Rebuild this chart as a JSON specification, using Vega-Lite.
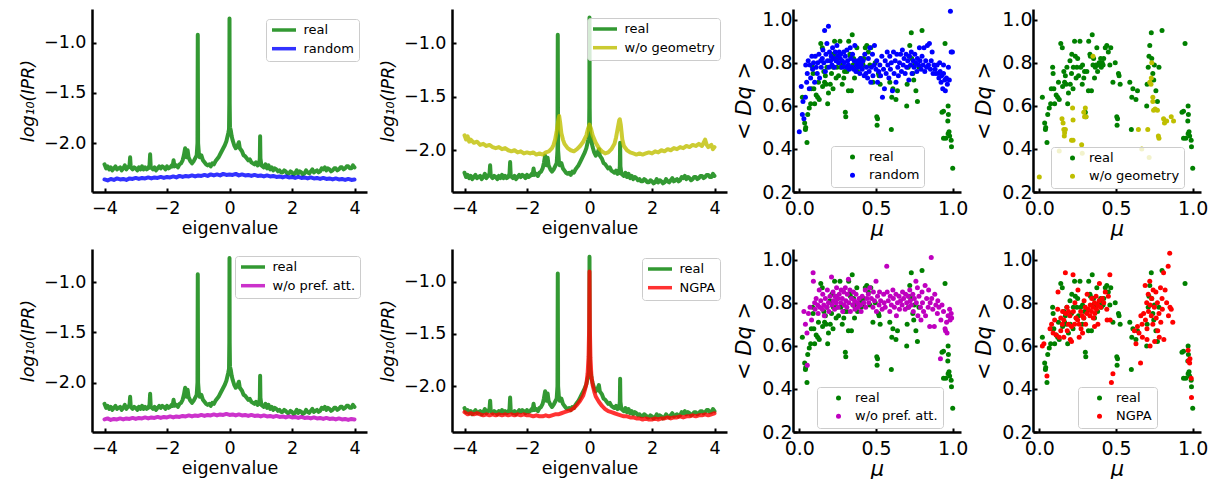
{
"$schema":"https://vega.github.io/schema/vega-lite/v6.json",
"padding":{"left":19,"top":8,"right":0,"bottom":0},
"config":{"view":{"stroke":null},"font":"DejaVu Sans","line":{"strokeJoin":"round","strokeCap":"round"},"axis":{"grid":false,"domainColor":"#000","domainWidth":2.5,"tickColor":"#000","tickWidth":2,"tickSize":-4,"labelColor":"#000","titleColor":"#000","titleFontWeight":"normal","labelFont":"DejaVu Sans","titleFont":"DejaVu Sans","labelFlush":false,"labelOverlap":false},"legend":{"labelFont":"DejaVu Sans"}},
"datasets":{
"real":[{"e":-4,"v":-2.21},{"e":-3.95,"v":-2.25},{"e":-3.9,"v":-2.23},{"e":-3.85,"v":-2.26},{"e":-3.8,"v":-2.24},{"e":-3.75,"v":-2.27},{"e":-3.7,"v":-2.25},{"e":-3.65,"v":-2.23},{"e":-3.6,"v":-2.26},{"e":-3.55,"v":-2.25},{"e":-3.5,"v":-2.24},{"e":-3.45,"v":-2.27},{"e":-3.4,"v":-2.25},{"e":-3.35,"v":-2.22},{"e":-3.3,"v":-2.26},{"e":-3.25,"v":-2.24},{"e":-3.2,"v":-2.22},{"e":-3.18,"v":-2.14},{"e":-3.16,"v":-2.24},{"e":-3.1,"v":-2.26},{"e":-3.05,"v":-2.24},{"e":-3,"v":-2.25},{"e":-2.95,"v":-2.27},{"e":-2.9,"v":-2.24},{"e":-2.85,"v":-2.26},{"e":-2.8,"v":-2.23},{"e":-2.75,"v":-2.26},{"e":-2.7,"v":-2.24},{"e":-2.65,"v":-2.26},{"e":-2.6,"v":-2.25},{"e":-2.56,"v":-2.22},{"e":-2.54,"v":-2.11},{"e":-2.52,"v":-2.24},{"e":-2.45,"v":-2.26},{"e":-2.4,"v":-2.24},{"e":-2.35,"v":-2.27},{"e":-2.3,"v":-2.25},{"e":-2.25,"v":-2.23},{"e":-2.2,"v":-2.25},{"e":-2.15,"v":-2.23},{"e":-2.1,"v":-2.24},{"e":-2.05,"v":-2.26},{"e":-2,"v":-2.23},{"e":-1.95,"v":-2.25},{"e":-1.9,"v":-2.24},{"e":-1.85,"v":-2.22},{"e":-1.82,"v":-2.23},{"e":-1.79,"v":-2.17},{"e":-1.76,"v":-2.23},{"e":-1.7,"v":-2.22},{"e":-1.65,"v":-2.24},{"e":-1.6,"v":-2.21},{"e":-1.55,"v":-2.2},{"e":-1.5,"v":-2.17},{"e":-1.46,"v":-2.12},{"e":-1.42,"v":-2.05},{"e":-1.4,"v":-2.1},{"e":-1.37,"v":-2.14},{"e":-1.34,"v":-2.07},{"e":-1.31,"v":-2.14},{"e":-1.25,"v":-2.18},{"e":-1.2,"v":-2.2},{"e":-1.15,"v":-2.18},{"e":-1.1,"v":-2.15},{"e":-1.05,"v":-2.12},{"e":-1.025,"v":-2.0},{"e":-1.015,"v":-0.92},{"e":-1.005,"v":-2.0},{"e":-0.98,"v":-2.1},{"e":-0.95,"v":-2.14},{"e":-0.9,"v":-2.12},{"e":-0.85,"v":-2.17},{"e":-0.8,"v":-2.19},{"e":-0.75,"v":-2.21},{"e":-0.7,"v":-2.22},{"e":-0.65,"v":-2.21},{"e":-0.6,"v":-2.23},{"e":-0.55,"v":-2.2},{"e":-0.5,"v":-2.21},{"e":-0.45,"v":-2.18},{"e":-0.4,"v":-2.16},{"e":-0.35,"v":-2.14},{"e":-0.3,"v":-2.11},{"e":-0.25,"v":-2.08},{"e":-0.2,"v":-2.05},{"e":-0.15,"v":-2.02},{"e":-0.1,"v":-1.98},{"e":-0.07,"v":-1.94},{"e":-0.04,"v":-1.9},{"e":-0.015,"v":-1.86},{"e":-0.006,"v":-1.6},{"e":0,"v":-0.76},{"e":0.006,"v":-1.6},{"e":0.015,"v":-1.84},{"e":0.04,"v":-1.87},{"e":0.07,"v":-1.93},{"e":0.1,"v":-1.97},{"e":0.15,"v":-2.02},{"e":0.2,"v":-2.05},{"e":0.25,"v":-2.03},{"e":0.3,"v":-1.99},{"e":0.33,"v":-2.05},{"e":0.4,"v":-2.08},{"e":0.45,"v":-2.12},{"e":0.5,"v":-2.13},{"e":0.55,"v":-2.15},{"e":0.6,"v":-2.17},{"e":0.65,"v":-2.16},{"e":0.7,"v":-2.19},{"e":0.75,"v":-2.2},{"e":0.8,"v":-2.21},{"e":0.85,"v":-2.19},{"e":0.9,"v":-2.22},{"e":0.95,"v":-2.21},{"e":0.97,"v":-2.15},{"e":0.98,"v":-1.93},{"e":0.99,"v":-2.15},{"e":1.02,"v":-2.22},{"e":1.1,"v":-2.24},{"e":1.15,"v":-2.21},{"e":1.2,"v":-2.25},{"e":1.25,"v":-2.22},{"e":1.3,"v":-2.26},{"e":1.35,"v":-2.24},{"e":1.4,"v":-2.27},{"e":1.45,"v":-2.25},{"e":1.5,"v":-2.26},{"e":1.55,"v":-2.28},{"e":1.6,"v":-2.27},{"e":1.65,"v":-2.29},{"e":1.7,"v":-2.29},{"e":1.75,"v":-2.27},{"e":1.8,"v":-2.28},{"e":1.85,"v":-2.3},{"e":1.9,"v":-2.3},{"e":1.95,"v":-2.28},{"e":2,"v":-2.29},{"e":2.05,"v":-2.31},{"e":2.1,"v":-2.3},{"e":2.15,"v":-2.27},{"e":2.2,"v":-2.3},{"e":2.25,"v":-2.28},{"e":2.3,"v":-2.29},{"e":2.35,"v":-2.31},{"e":2.4,"v":-2.3},{"e":2.45,"v":-2.27},{"e":2.5,"v":-2.29},{"e":2.55,"v":-2.3},{"e":2.6,"v":-2.28},{"e":2.65,"v":-2.26},{"e":2.7,"v":-2.29},{"e":2.75,"v":-2.28},{"e":2.8,"v":-2.27},{"e":2.85,"v":-2.29},{"e":2.9,"v":-2.28},{"e":2.95,"v":-2.25},{"e":3,"v":-2.26},{"e":3.05,"v":-2.24},{"e":3.1,"v":-2.27},{"e":3.15,"v":-2.25},{"e":3.2,"v":-2.26},{"e":3.25,"v":-2.28},{"e":3.3,"v":-2.27},{"e":3.35,"v":-2.25},{"e":3.4,"v":-2.25},{"e":3.45,"v":-2.27},{"e":3.5,"v":-2.26},{"e":3.55,"v":-2.24},{"e":3.6,"v":-2.24},{"e":3.65,"v":-2.26},{"e":3.7,"v":-2.25},{"e":3.75,"v":-2.23},{"e":3.8,"v":-2.23},{"e":3.85,"v":-2.25},{"e":3.9,"v":-2.25},{"e":3.95,"v":-2.22},{"e":4,"v":-2.24}],
"random":[{"e":-4,"v":-2.36},{"e":-3.9,"v":-2.37},{"e":-3.8,"v":-2.355},{"e":-3.7,"v":-2.365},{"e":-3.6,"v":-2.35},{"e":-3.5,"v":-2.36},{"e":-3.4,"v":-2.355},{"e":-3.3,"v":-2.365},{"e":-3.2,"v":-2.35},{"e":-3.1,"v":-2.355},{"e":-3,"v":-2.345},{"e":-2.9,"v":-2.355},{"e":-2.8,"v":-2.345},{"e":-2.7,"v":-2.35},{"e":-2.6,"v":-2.34},{"e":-2.5,"v":-2.35},{"e":-2.4,"v":-2.34},{"e":-2.3,"v":-2.345},{"e":-2.2,"v":-2.335},{"e":-2.1,"v":-2.345},{"e":-2,"v":-2.335},{"e":-1.9,"v":-2.34},{"e":-1.8,"v":-2.33},{"e":-1.7,"v":-2.34},{"e":-1.6,"v":-2.325},{"e":-1.5,"v":-2.335},{"e":-1.4,"v":-2.325},{"e":-1.3,"v":-2.33},{"e":-1.2,"v":-2.32},{"e":-1.1,"v":-2.33},{"e":-1,"v":-2.32},{"e":-0.9,"v":-2.325},{"e":-0.8,"v":-2.315},{"e":-0.7,"v":-2.325},{"e":-0.6,"v":-2.31},{"e":-0.5,"v":-2.32},{"e":-0.4,"v":-2.31},{"e":-0.3,"v":-2.32},{"e":-0.2,"v":-2.305},{"e":-0.1,"v":-2.315},{"e":0,"v":-2.31},{"e":0.1,"v":-2.315},{"e":0.2,"v":-2.305},{"e":0.3,"v":-2.32},{"e":0.4,"v":-2.31},{"e":0.5,"v":-2.32},{"e":0.6,"v":-2.315},{"e":0.7,"v":-2.325},{"e":0.8,"v":-2.315},{"e":0.9,"v":-2.325},{"e":1,"v":-2.32},{"e":1.1,"v":-2.33},{"e":1.2,"v":-2.32},{"e":1.3,"v":-2.33},{"e":1.4,"v":-2.325},{"e":1.5,"v":-2.335},{"e":1.6,"v":-2.33},{"e":1.7,"v":-2.34},{"e":1.8,"v":-2.33},{"e":1.9,"v":-2.34},{"e":2,"v":-2.335},{"e":2.1,"v":-2.345},{"e":2.2,"v":-2.335},{"e":2.3,"v":-2.345},{"e":2.4,"v":-2.34},{"e":2.5,"v":-2.35},{"e":2.6,"v":-2.34},{"e":2.7,"v":-2.35},{"e":2.8,"v":-2.345},{"e":2.9,"v":-2.355},{"e":3,"v":-2.345},{"e":3.1,"v":-2.355},{"e":3.2,"v":-2.35},{"e":3.3,"v":-2.36},{"e":3.4,"v":-2.35},{"e":3.5,"v":-2.36},{"e":3.6,"v":-2.355},{"e":3.7,"v":-2.365},{"e":3.8,"v":-2.355},{"e":3.9,"v":-2.365},{"e":4,"v":-2.36}],
"geo":[{"e":-4,"v":-1.86},{"e":-3.95,"v":-1.9},{"e":-3.9,"v":-1.87},{"e":-3.85,"v":-1.92},{"e":-3.8,"v":-1.9},{"e":-3.7,"v":-1.93},{"e":-3.6,"v":-1.92},{"e":-3.5,"v":-1.95},{"e":-3.4,"v":-1.94},{"e":-3.3,"v":-1.96},{"e":-3.2,"v":-1.95},{"e":-3.1,"v":-1.97},{"e":-3,"v":-1.98},{"e":-2.9,"v":-1.97},{"e":-2.8,"v":-1.99},{"e":-2.7,"v":-1.98},{"e":-2.6,"v":-2.0},{"e":-2.5,"v":-2.01},{"e":-2.4,"v":-2.0},{"e":-2.3,"v":-2.02},{"e":-2.2,"v":-2.01},{"e":-2.1,"v":-2.03},{"e":-2,"v":-2.02},{"e":-1.9,"v":-2.03},{"e":-1.8,"v":-2.02},{"e":-1.7,"v":-2.04},{"e":-1.6,"v":-2.03},{"e":-1.5,"v":-2.04},{"e":-1.4,"v":-2.02},{"e":-1.3,"v":-2.01},{"e":-1.2,"v":-1.98},{"e":-1.15,"v":-1.95},{"e":-1.1,"v":-1.9},{"e":-1.05,"v":-1.82},{"e":-1,"v":-1.72},{"e":-0.97,"v":-1.68},{"e":-0.94,"v":-1.74},{"e":-0.9,"v":-1.84},{"e":-0.85,"v":-1.9},{"e":-0.8,"v":-1.94},{"e":-0.7,"v":-1.98},{"e":-0.6,"v":-2.0},{"e":-0.5,"v":-2.01},{"e":-0.4,"v":-1.99},{"e":-0.3,"v":-1.96},{"e":-0.2,"v":-1.92},{"e":-0.1,"v":-1.86},{"e":-0.05,"v":-1.8},{"e":0,"v":-1.76},{"e":0.05,"v":-1.8},{"e":0.1,"v":-1.86},{"e":0.2,"v":-1.93},{"e":0.3,"v":-1.98},{"e":0.4,"v":-2.01},{"e":0.5,"v":-2.03},{"e":0.6,"v":-2.02},{"e":0.7,"v":-1.99},{"e":0.8,"v":-1.94},{"e":0.85,"v":-1.88},{"e":0.9,"v":-1.8},{"e":0.95,"v":-1.72},{"e":0.97,"v":-1.71},{"e":1,"v":-1.76},{"e":1.05,"v":-1.9},{"e":1.1,"v":-1.96},{"e":1.2,"v":-2.0},{"e":1.3,"v":-2.02},{"e":1.4,"v":-2.03},{"e":1.5,"v":-2.04},{"e":1.6,"v":-2.03},{"e":1.7,"v":-2.04},{"e":1.8,"v":-2.03},{"e":1.9,"v":-2.02},{"e":2,"v":-2.03},{"e":2.1,"v":-2.01},{"e":2.2,"v":-2.02},{"e":2.3,"v":-2.0},{"e":2.4,"v":-2.01},{"e":2.5,"v":-1.99},{"e":2.6,"v":-2.0},{"e":2.7,"v":-1.98},{"e":2.8,"v":-1.99},{"e":2.9,"v":-1.97},{"e":3,"v":-1.98},{"e":3.1,"v":-1.96},{"e":3.2,"v":-1.97},{"e":3.3,"v":-1.95},{"e":3.4,"v":-1.96},{"e":3.5,"v":-1.94},{"e":3.6,"v":-1.96},{"e":3.7,"v":-1.9},{"e":3.75,"v":-1.95},{"e":3.8,"v":-1.97},{"e":3.9,"v":-1.95},{"e":3.95,"v":-1.99},{"e":4,"v":-1.97}],
"pref":[{"e":-4,"v":-2.365},{"e":-3.9,"v":-2.355},{"e":-3.8,"v":-2.37},{"e":-3.7,"v":-2.36},{"e":-3.6,"v":-2.365},{"e":-3.5,"v":-2.355},{"e":-3.4,"v":-2.365},{"e":-3.3,"v":-2.355},{"e":-3.2,"v":-2.36},{"e":-3.1,"v":-2.35},{"e":-3,"v":-2.36},{"e":-2.9,"v":-2.35},{"e":-2.8,"v":-2.355},{"e":-2.7,"v":-2.345},{"e":-2.6,"v":-2.355},{"e":-2.5,"v":-2.345},{"e":-2.4,"v":-2.35},{"e":-2.3,"v":-2.34},{"e":-2.2,"v":-2.35},{"e":-2.1,"v":-2.34},{"e":-2,"v":-2.345},{"e":-1.9,"v":-2.335},{"e":-1.8,"v":-2.345},{"e":-1.7,"v":-2.335},{"e":-1.6,"v":-2.34},{"e":-1.5,"v":-2.33},{"e":-1.4,"v":-2.335},{"e":-1.3,"v":-2.325},{"e":-1.2,"v":-2.335},{"e":-1.1,"v":-2.325},{"e":-1,"v":-2.33},{"e":-0.9,"v":-2.32},{"e":-0.8,"v":-2.33},{"e":-0.7,"v":-2.32},{"e":-0.6,"v":-2.325},{"e":-0.5,"v":-2.315},{"e":-0.4,"v":-2.325},{"e":-0.3,"v":-2.315},{"e":-0.2,"v":-2.32},{"e":-0.1,"v":-2.31},{"e":0,"v":-2.32},{"e":0.1,"v":-2.315},{"e":0.2,"v":-2.325},{"e":0.3,"v":-2.315},{"e":0.4,"v":-2.325},{"e":0.5,"v":-2.32},{"e":0.6,"v":-2.33},{"e":0.7,"v":-2.32},{"e":0.8,"v":-2.33},{"e":0.9,"v":-2.325},{"e":1,"v":-2.335},{"e":1.1,"v":-2.325},{"e":1.2,"v":-2.335},{"e":1.3,"v":-2.33},{"e":1.4,"v":-2.34},{"e":1.5,"v":-2.33},{"e":1.6,"v":-2.34},{"e":1.7,"v":-2.335},{"e":1.8,"v":-2.345},{"e":1.9,"v":-2.335},{"e":2,"v":-2.345},{"e":2.1,"v":-2.34},{"e":2.2,"v":-2.35},{"e":2.3,"v":-2.34},{"e":2.4,"v":-2.35},{"e":2.5,"v":-2.345},{"e":2.6,"v":-2.355},{"e":2.7,"v":-2.345},{"e":2.8,"v":-2.355},{"e":2.9,"v":-2.35},{"e":3,"v":-2.36},{"e":3.1,"v":-2.35},{"e":3.2,"v":-2.36},{"e":3.3,"v":-2.355},{"e":3.4,"v":-2.365},{"e":3.5,"v":-2.355},{"e":3.6,"v":-2.365},{"e":3.7,"v":-2.36},{"e":3.8,"v":-2.37},{"e":3.9,"v":-2.36},{"e":4,"v":-2.365}],
"ngpa":[{"e":-4,"v":-2.25},{"e":-3.9,"v":-2.27},{"e":-3.8,"v":-2.26},{"e":-3.7,"v":-2.27},{"e":-3.6,"v":-2.26},{"e":-3.5,"v":-2.27},{"e":-3.4,"v":-2.28},{"e":-3.3,"v":-2.27},{"e":-3.2,"v":-2.28},{"e":-3.1,"v":-2.27},{"e":-3,"v":-2.28},{"e":-2.9,"v":-2.27},{"e":-2.8,"v":-2.28},{"e":-2.7,"v":-2.27},{"e":-2.6,"v":-2.28},{"e":-2.5,"v":-2.27},{"e":-2.4,"v":-2.28},{"e":-2.3,"v":-2.27},{"e":-2.2,"v":-2.28},{"e":-2.1,"v":-2.27},{"e":-2,"v":-2.28},{"e":-1.9,"v":-2.28},{"e":-1.8,"v":-2.29},{"e":-1.7,"v":-2.28},{"e":-1.6,"v":-2.29},{"e":-1.5,"v":-2.29},{"e":-1.4,"v":-2.28},{"e":-1.3,"v":-2.29},{"e":-1.2,"v":-2.28},{"e":-1.1,"v":-2.27},{"e":-1,"v":-2.27},{"e":-0.9,"v":-2.26},{"e":-0.8,"v":-2.25},{"e":-0.7,"v":-2.24},{"e":-0.6,"v":-2.23},{"e":-0.5,"v":-2.21},{"e":-0.4,"v":-2.18},{"e":-0.3,"v":-2.14},{"e":-0.2,"v":-2.09},{"e":-0.15,"v":-2.04},{"e":-0.1,"v":-1.98},{"e":-0.06,"v":-1.88},{"e":-0.03,"v":-1.72},{"e":-0.012,"v":-1.45},{"e":0,"v":-0.9},{"e":0.012,"v":-1.45},{"e":0.03,"v":-1.73},{"e":0.06,"v":-1.9},{"e":0.1,"v":-1.99},{"e":0.15,"v":-2.05},{"e":0.2,"v":-2.1},{"e":0.3,"v":-2.15},{"e":0.4,"v":-2.19},{"e":0.5,"v":-2.22},{"e":0.6,"v":-2.24},{"e":0.7,"v":-2.25},{"e":0.8,"v":-2.26},{"e":0.9,"v":-2.27},{"e":1,"v":-2.28},{"e":1.1,"v":-2.29},{"e":1.2,"v":-2.29},{"e":1.3,"v":-2.3},{"e":1.4,"v":-2.3},{"e":1.5,"v":-2.31},{"e":1.6,"v":-2.31},{"e":1.7,"v":-2.32},{"e":1.8,"v":-2.31},{"e":1.9,"v":-2.32},{"e":2,"v":-2.32},{"e":2.1,"v":-2.31},{"e":2.2,"v":-2.32},{"e":2.3,"v":-2.31},{"e":2.4,"v":-2.31},{"e":2.5,"v":-2.3},{"e":2.6,"v":-2.31},{"e":2.7,"v":-2.3},{"e":2.8,"v":-2.3},{"e":2.9,"v":-2.29},{"e":3,"v":-2.3},{"e":3.1,"v":-2.29},{"e":3.2,"v":-2.29},{"e":3.3,"v":-2.28},{"e":3.4,"v":-2.29},{"e":3.5,"v":-2.28},{"e":3.6,"v":-2.28},{"e":3.7,"v":-2.27},{"e":3.8,"v":-2.28},{"e":3.9,"v":-2.27},{"e":4,"v":-2.26}],
"sreal":[{"m":0.02,"d":0.64},{"m":0.035,"d":0.52},{"m":0.04,"d":0.49},{"m":0.042,"d":0.5},{"m":0.05,"d":0.43},{"m":0.055,"d":0.56},{"m":0.065,"d":0.59},{"m":0.074,"d":0.61},{"m":0.087,"d":0.78},{"m":0.078,"d":0.68},{"m":0.09,"d":0.75},{"m":0.095,"d":0.68},{"m":0.1,"d":0.61},{"m":0.11,"d":0.65},{"m":0.12,"d":0.64},{"m":0.125,"d":0.71},{"m":0.13,"d":0.63},{"m":0.14,"d":0.89},{"m":0.15,"d":0.87},{"m":0.152,"d":0.69},{"m":0.16,"d":0.76},{"m":0.165,"d":0.71},{"m":0.17,"d":0.74},{"m":0.175,"d":0.7},{"m":0.18,"d":0.78},{"m":0.185,"d":0.61},{"m":0.19,"d":0.66},{"m":0.2,"d":0.81},{"m":0.202,"d":0.7},{"m":0.21,"d":0.75},{"m":0.212,"d":0.84},{"m":0.22,"d":0.68},{"m":0.222,"d":0.78},{"m":0.23,"d":0.9},{"m":0.235,"d":0.83},{"m":0.24,"d":0.73},{"m":0.245,"d":0.78},{"m":0.25,"d":0.82},{"m":0.256,"d":0.74},{"m":0.265,"d":0.9},{"m":0.27,"d":0.78},{"m":0.28,"d":0.7},{"m":0.282,"d":0.79},{"m":0.29,"d":0.73},{"m":0.295,"d":0.76},{"m":0.3,"d":0.57},{"m":0.303,"d":0.55},{"m":0.31,"d":0.76},{"m":0.32,"d":0.67},{"m":0.322,"d":0.9},{"m":0.33,"d":0.84},{"m":0.333,"d":0.83},{"m":0.34,"d":0.67},{"m":0.345,"d":0.93},{"m":0.35,"d":0.79},{"m":0.354,"d":0.82},{"m":0.36,"d":0.73},{"m":0.365,"d":0.78},{"m":0.37,"d":0.79},{"m":0.375,"d":0.87},{"m":0.38,"d":0.76},{"m":0.386,"d":0.79},{"m":0.39,"d":0.8},{"m":0.4,"d":0.82},{"m":0.404,"d":0.78},{"m":0.41,"d":0.8},{"m":0.416,"d":0.79},{"m":0.42,"d":0.82},{"m":0.43,"d":0.87},{"m":0.44,"d":0.88},{"m":0.45,"d":0.85},{"m":0.46,"d":0.79},{"m":0.466,"d":0.87},{"m":0.48,"d":0.71},{"m":0.495,"d":0.8},{"m":0.505,"d":0.55},{"m":0.51,"d":0.54},{"m":0.507,"d":0.51},{"m":0.516,"d":0.75},{"m":0.52,"d":0.74},{"m":0.527,"d":0.7},{"m":0.59,"d":0.71},{"m":0.6,"d":0.49},{"m":0.603,"d":0.64},{"m":0.61,"d":0.68},{"m":0.63,"d":0.63},{"m":0.64,"d":0.67},{"m":0.7,"d":0.6},{"m":0.703,"d":0.7},{"m":0.71,"d":0.78},{"m":0.715,"d":0.83},{"m":0.72,"d":0.88},{"m":0.73,"d":0.94},{"m":0.733,"d":0.82},{"m":0.74,"d":0.75},{"m":0.746,"d":0.72},{"m":0.75,"d":0.79},{"m":0.76,"d":0.67},{"m":0.77,"d":0.62},{"m":0.78,"d":0.78},{"m":0.8,"d":0.95},{"m":0.95,"d":0.89},{"m":0.93,"d":0.57},{"m":0.94,"d":0.575},{"m":0.94,"d":0.45},{"m":0.955,"d":0.45},{"m":0.97,"d":0.6},{"m":0.972,"d":0.56},{"m":0.968,"d":0.53},{"m":0.976,"d":0.48},{"m":0.98,"d":0.46},{"m":0.99,"d":0.44},{"m":0.992,"d":0.41},{"m":1.0,"d":0.31},{"m":0.97,"d":0.47}],
"srandom":[{"m":0.0,"d":0.48},{"m":0.013,"d":0.69},{"m":0.02,"d":0.56},{"m":0.024,"d":0.62},{"m":0.03,"d":0.54},{"m":0.04,"d":0.64},{"m":0.042,"d":0.79},{"m":0.048,"d":0.71},{"m":0.052,"d":0.75},{"m":0.058,"d":0.81},{"m":0.065,"d":0.68},{"m":0.07,"d":0.79},{"m":0.074,"d":0.73},{"m":0.082,"d":0.83},{"m":0.087,"d":0.77},{"m":0.093,"d":0.8},{"m":0.1,"d":0.71},{"m":0.104,"d":0.83},{"m":0.11,"d":0.78},{"m":0.117,"d":0.75},{"m":0.12,"d":0.8},{"m":0.128,"d":0.84},{"m":0.132,"d":0.73},{"m":0.14,"d":0.81},{"m":0.143,"d":0.78},{"m":0.15,"d":0.82},{"m":0.154,"d":0.86},{"m":0.16,"d":0.8},{"m":0.165,"d":0.95},{"m":0.17,"d":0.76},{"m":0.174,"d":0.84},{"m":0.18,"d":0.89},{"m":0.184,"d":0.81},{"m":0.19,"d":0.97},{"m":0.193,"d":0.78},{"m":0.197,"d":0.85},{"m":0.204,"d":0.81},{"m":0.208,"d":0.83},{"m":0.213,"d":0.79},{"m":0.217,"d":0.87},{"m":0.223,"d":0.82},{"m":0.228,"d":0.78},{"m":0.234,"d":0.85},{"m":0.239,"d":0.81},{"m":0.245,"d":0.88},{"m":0.25,"d":0.83},{"m":0.256,"d":0.8},{"m":0.26,"d":0.85},{"m":0.267,"d":0.82},{"m":0.27,"d":0.84},{"m":0.278,"d":0.78},{"m":0.28,"d":0.81},{"m":0.29,"d":0.85},{"m":0.293,"d":0.8},{"m":0.3,"d":0.83},{"m":0.306,"d":0.78},{"m":0.31,"d":0.86},{"m":0.315,"d":0.81},{"m":0.32,"d":0.79},{"m":0.325,"d":0.77},{"m":0.332,"d":0.87},{"m":0.336,"d":0.82},{"m":0.343,"d":0.78},{"m":0.347,"d":0.84},{"m":0.354,"d":0.77},{"m":0.358,"d":0.81},{"m":0.362,"d":0.88},{"m":0.369,"d":0.76},{"m":0.373,"d":0.79},{"m":0.38,"d":0.81},{"m":0.384,"d":0.78},{"m":0.39,"d":0.8},{"m":0.395,"d":0.75},{"m":0.4,"d":0.82},{"m":0.405,"d":0.79},{"m":0.41,"d":0.77},{"m":0.416,"d":0.81},{"m":0.423,"d":0.74},{"m":0.427,"d":0.84},{"m":0.434,"d":0.75},{"m":0.438,"d":0.78},{"m":0.445,"d":0.73},{"m":0.45,"d":0.82},{"m":0.455,"d":0.76},{"m":0.46,"d":0.87},{"m":0.466,"d":0.71},{"m":0.47,"d":0.78},{"m":0.477,"d":0.84},{"m":0.48,"d":0.74},{"m":0.488,"d":0.79},{"m":0.49,"d":0.88},{"m":0.5,"d":0.77},{"m":0.505,"d":0.81},{"m":0.51,"d":0.71},{"m":0.518,"d":0.76},{"m":0.525,"d":0.79},{"m":0.53,"d":0.74},{"m":0.538,"d":0.83},{"m":0.542,"d":0.64},{"m":0.549,"d":0.77},{"m":0.555,"d":0.68},{"m":0.56,"d":0.81},{"m":0.566,"d":0.75},{"m":0.573,"d":0.85},{"m":0.577,"d":0.79},{"m":0.584,"d":0.73},{"m":0.59,"d":0.83},{"m":0.594,"d":0.77},{"m":0.6,"d":0.8},{"m":0.607,"d":0.67},{"m":0.614,"d":0.85},{"m":0.618,"d":0.75},{"m":0.625,"d":0.81},{"m":0.63,"d":0.71},{"m":0.636,"d":0.84},{"m":0.642,"d":0.78},{"m":0.646,"d":0.74},{"m":0.653,"d":0.8},{"m":0.66,"d":0.84},{"m":0.666,"d":0.76},{"m":0.672,"d":0.86},{"m":0.677,"d":0.79},{"m":0.683,"d":0.82},{"m":0.69,"d":0.75},{"m":0.696,"d":0.84},{"m":0.7,"d":0.78},{"m":0.707,"d":0.81},{"m":0.714,"d":0.72},{"m":0.718,"d":0.83},{"m":0.725,"d":0.79},{"m":0.73,"d":0.85},{"m":0.735,"d":0.75},{"m":0.742,"d":0.81},{"m":0.748,"d":0.78},{"m":0.753,"d":0.84},{"m":0.76,"d":0.8},{"m":0.766,"d":0.76},{"m":0.77,"d":0.82},{"m":0.777,"d":0.79},{"m":0.783,"d":0.87},{"m":0.787,"d":0.81},{"m":0.794,"d":0.77},{"m":0.8,"d":0.83},{"m":0.807,"d":0.79},{"m":0.813,"d":0.87},{"m":0.818,"d":0.76},{"m":0.824,"d":0.81},{"m":0.83,"d":0.78},{"m":0.835,"d":0.88},{"m":0.842,"d":0.79},{"m":0.848,"d":0.89},{"m":0.855,"d":0.77},{"m":0.86,"d":0.81},{"m":0.866,"d":0.85},{"m":0.872,"d":0.75},{"m":0.878,"d":0.79},{"m":0.885,"d":0.77},{"m":0.89,"d":0.75},{"m":0.898,"d":0.79},{"m":0.905,"d":0.75},{"m":0.91,"d":0.73},{"m":0.918,"d":0.76},{"m":0.924,"d":0.71},{"m":0.928,"d":0.74},{"m":0.935,"d":0.68},{"m":0.94,"d":0.75},{"m":0.948,"d":0.72},{"m":0.952,"d":0.67},{"m":0.959,"d":0.73},{"m":0.965,"d":0.7},{"m":0.972,"d":0.78},{"m":0.978,"d":0.72},{"m":0.985,"d":1.04},{"m":0.99,"d":0.85},{"m":0.998,"d":0.85},{"m":0.94,"d":0.79},{"m":0.915,"d":0.8}],
"sgeo":[{"m":0.0,"d":0.27},{"m":0.13,"d":0.39},{"m":0.148,"d":0.54},{"m":0.155,"d":0.52},{"m":0.16,"d":0.49},{"m":0.165,"d":0.475},{"m":0.17,"d":0.49},{"m":0.163,"d":0.46},{"m":0.21,"d":0.44},{"m":0.22,"d":0.44},{"m":0.217,"d":0.59},{"m":0.22,"d":0.535},{"m":0.276,"d":0.42},{"m":0.28,"d":0.38},{"m":0.29,"d":0.57},{"m":0.295,"d":0.55},{"m":0.3,"d":0.59},{"m":0.305,"d":0.55},{"m":0.35,"d":0.83},{"m":0.646,"d":0.49},{"m":0.707,"d":0.49},{"m":0.668,"d":0.4},{"m":0.716,"d":0.36},{"m":0.72,"d":0.71},{"m":0.73,"d":0.73},{"m":0.733,"d":0.8},{"m":0.74,"d":0.64},{"m":0.745,"d":0.58},{"m":0.755,"d":0.585},{"m":0.77,"d":0.58},{"m":0.776,"d":0.46},{"m":0.78,"d":0.45},{"m":0.81,"d":0.54},{"m":0.816,"d":0.52},{"m":0.83,"d":0.53},{"m":0.86,"d":0.55},{"m":0.875,"d":0.53},{"m":0.74,"d":0.62},{"m":0.728,"d":0.7}],
"spref":[{"m":0.03,"d":0.76},{"m":0.04,"d":0.7},{"m":0.05,"d":0.66},{"m":0.052,"d":0.51},{"m":0.06,"d":0.75},{"m":0.07,"d":0.78},{"m":0.08,"d":0.72},{"m":0.09,"d":0.94},{"m":0.092,"d":0.9},{"m":0.1,"d":0.8},{"m":0.103,"d":0.77},{"m":0.11,"d":0.82},{"m":0.12,"d":0.79},{"m":0.123,"d":0.75},{"m":0.13,"d":0.86},{"m":0.133,"d":0.78},{"m":0.14,"d":0.81},{"m":0.15,"d":0.77},{"m":0.153,"d":0.84},{"m":0.16,"d":0.79},{"m":0.163,"d":0.74},{"m":0.17,"d":0.82},{"m":0.18,"d":0.78},{"m":0.183,"d":0.86},{"m":0.19,"d":0.8},{"m":0.193,"d":0.76},{"m":0.2,"d":0.83},{"m":0.21,"d":0.92},{"m":0.213,"d":0.79},{"m":0.22,"d":0.85},{"m":0.223,"d":0.81},{"m":0.23,"d":0.77},{"m":0.233,"d":0.83},{"m":0.24,"d":0.8},{"m":0.243,"d":0.87},{"m":0.25,"d":0.82},{"m":0.253,"d":0.78},{"m":0.26,"d":0.84},{"m":0.27,"d":0.8},{"m":0.273,"d":0.86},{"m":0.28,"d":0.82},{"m":0.283,"d":0.76},{"m":0.29,"d":0.85},{"m":0.293,"d":0.79},{"m":0.3,"d":0.87},{"m":0.303,"d":0.81},{"m":0.31,"d":0.78},{"m":0.313,"d":0.84},{"m":0.32,"d":0.91},{"m":0.323,"d":0.8},{"m":0.33,"d":0.86},{"m":0.333,"d":0.76},{"m":0.34,"d":0.82},{"m":0.35,"d":0.79},{"m":0.353,"d":0.85},{"m":0.36,"d":0.81},{"m":0.363,"d":0.77},{"m":0.37,"d":0.84},{"m":0.38,"d":0.8},{"m":0.383,"d":0.78},{"m":0.39,"d":0.82},{"m":0.4,"d":0.79},{"m":0.403,"d":0.76},{"m":0.41,"d":0.83},{"m":0.42,"d":0.8},{"m":0.43,"d":0.86},{"m":0.433,"d":0.78},{"m":0.44,"d":0.82},{"m":0.45,"d":0.84},{"m":0.453,"d":0.8},{"m":0.46,"d":0.87},{"m":0.47,"d":0.82},{"m":0.48,"d":0.78},{"m":0.483,"d":0.85},{"m":0.49,"d":0.81},{"m":0.5,"d":0.9},{"m":0.503,"d":0.76},{"m":0.51,"d":0.83},{"m":0.52,"d":0.79},{"m":0.523,"d":0.85},{"m":0.53,"d":0.81},{"m":0.54,"d":0.77},{"m":0.55,"d":0.84},{"m":0.553,"d":0.8},{"m":0.56,"d":0.78},{"m":0.57,"d":0.97},{"m":0.573,"d":0.85},{"m":0.58,"d":0.81},{"m":0.59,"d":0.76},{"m":0.593,"d":0.83},{"m":0.6,"d":0.79},{"m":0.61,"d":0.86},{"m":0.613,"d":0.82},{"m":0.62,"d":0.78},{"m":0.63,"d":0.84},{"m":0.633,"d":0.74},{"m":0.64,"d":0.8},{"m":0.65,"d":0.83},{"m":0.653,"d":0.77},{"m":0.66,"d":0.81},{"m":0.67,"d":0.79},{"m":0.673,"d":0.85},{"m":0.68,"d":0.82},{"m":0.69,"d":0.77},{"m":0.693,"d":0.84},{"m":0.7,"d":0.8},{"m":0.71,"d":0.83},{"m":0.713,"d":0.78},{"m":0.72,"d":0.86},{"m":0.723,"d":0.81},{"m":0.73,"d":0.79},{"m":0.74,"d":0.84},{"m":0.743,"d":0.76},{"m":0.75,"d":0.82},{"m":0.76,"d":0.9},{"m":0.763,"d":0.8},{"m":0.77,"d":0.87},{"m":0.773,"d":0.74},{"m":0.78,"d":0.83},{"m":0.79,"d":0.78},{"m":0.793,"d":0.72},{"m":0.8,"d":0.85},{"m":0.803,"d":0.8},{"m":0.81,"d":0.76},{"m":0.82,"d":0.88},{"m":0.823,"d":0.74},{"m":0.83,"d":0.82},{"m":0.84,"d":0.78},{"m":0.843,"d":0.86},{"m":0.85,"d":0.69},{"m":0.853,"d":0.8},{"m":0.86,"d":1.01},{"m":0.863,"d":0.82},{"m":0.87,"d":0.77},{"m":0.88,"d":0.69},{"m":0.883,"d":0.84},{"m":0.89,"d":0.79},{"m":0.9,"d":0.75},{"m":0.903,"d":0.81},{"m":0.91,"d":0.78},{"m":0.92,"d":0.54},{"m":0.923,"d":0.72},{"m":0.93,"d":0.79},{"m":0.94,"d":0.76},{"m":0.95,"d":0.68},{"m":0.953,"d":0.67},{"m":0.96,"d":0.71},{"m":0.963,"d":0.66},{"m":0.97,"d":0.74},{"m":0.98,"d":0.77},{"m":0.983,"d":0.72},{"m":0.99,"d":0.75},{"m":0.993,"d":0.73}],
"sngpa":[{"m":0.02,"d":0.6},{"m":0.03,"d":0.61},{"m":0.05,"d":0.46},{"m":0.07,"d":0.68},{"m":0.08,"d":0.7},{"m":0.09,"d":0.66},{"m":0.1,"d":0.72},{"m":0.11,"d":0.65},{"m":0.12,"d":0.77},{"m":0.122,"d":0.85},{"m":0.13,"d":0.64},{"m":0.14,"d":0.73},{"m":0.15,"d":0.7},{"m":0.152,"d":0.76},{"m":0.16,"d":0.72},{"m":0.17,"d":0.94},{"m":0.172,"d":0.75},{"m":0.18,"d":0.78},{"m":0.182,"d":0.67},{"m":0.19,"d":0.7},{"m":0.2,"d":0.74},{"m":0.202,"d":0.63},{"m":0.21,"d":0.62},{"m":0.22,"d":0.93},{"m":0.222,"d":0.76},{"m":0.23,"d":0.7},{"m":0.232,"d":0.8},{"m":0.24,"d":0.73},{"m":0.25,"d":0.72},{"m":0.252,"d":0.86},{"m":0.26,"d":0.7},{"m":0.27,"d":0.76},{"m":0.272,"d":0.68},{"m":0.28,"d":0.74},{"m":0.282,"d":0.66},{"m":0.29,"d":0.73},{"m":0.292,"d":0.81},{"m":0.3,"d":0.78},{"m":0.302,"d":0.7},{"m":0.31,"d":0.75},{"m":0.312,"d":0.84},{"m":0.32,"d":0.77},{"m":0.33,"d":0.74},{"m":0.332,"d":0.79},{"m":0.34,"d":0.76},{"m":0.342,"d":0.82},{"m":0.35,"d":0.78},{"m":0.352,"d":0.73},{"m":0.36,"d":0.8},{"m":0.362,"d":0.75},{"m":0.37,"d":0.83},{"m":0.372,"d":0.77},{"m":0.38,"d":0.79},{"m":0.382,"d":0.7},{"m":0.39,"d":0.81},{"m":0.392,"d":0.89},{"m":0.4,"d":0.78},{"m":0.41,"d":0.82},{"m":0.42,"d":0.8},{"m":0.43,"d":0.85},{"m":0.44,"d":0.77},{"m":0.442,"d":0.72},{"m":0.45,"d":0.83},{"m":0.46,"d":0.93},{"m":0.462,"d":0.72},{"m":0.47,"d":0.43},{"m":0.48,"d":0.47},{"m":0.36,"d":0.69},{"m":0.26,"d":0.64},{"m":0.19,"d":0.76},{"m":0.14,"d":0.67},{"m":0.16,"d":0.64},{"m":0.21,"d":0.69},{"m":0.62,"d":0.67},{"m":0.63,"d":0.61},{"m":0.64,"d":0.69},{"m":0.65,"d":0.66},{"m":0.66,"d":0.52},{"m":0.67,"d":0.7},{"m":0.672,"d":0.64},{"m":0.68,"d":0.75},{"m":0.69,"d":0.88},{"m":0.692,"d":0.72},{"m":0.7,"d":0.8},{"m":0.702,"d":0.68},{"m":0.71,"d":0.84},{"m":0.712,"d":0.76},{"m":0.72,"d":0.9},{"m":0.722,"d":0.79},{"m":0.73,"d":0.74},{"m":0.732,"d":0.82},{"m":0.74,"d":0.7},{"m":0.742,"d":0.86},{"m":0.75,"d":0.78},{"m":0.752,"d":0.62},{"m":0.76,"d":0.85},{"m":0.762,"d":0.73},{"m":0.77,"d":0.8},{"m":0.772,"d":0.67},{"m":0.78,"d":0.75},{"m":0.782,"d":0.64},{"m":0.79,"d":0.87},{"m":0.792,"d":0.71},{"m":0.8,"d":0.82},{"m":0.802,"d":0.77},{"m":0.81,"d":0.94},{"m":0.812,"d":0.63},{"m":0.82,"d":0.86},{"m":0.83,"d":0.8},{"m":0.84,"d":0.97},{"m":0.842,"d":0.74},{"m":0.85,"d":1.03},{"m":0.852,"d":0.78},{"m":0.86,"d":0.77},{"m":0.87,"d":0.71},{"m":0.702,"d":0.63},{"m":0.722,"d":0.6},{"m":0.662,"d":0.74},{"m":0.97,"d":0.58},{"m":0.98,"d":0.52},{"m":0.982,"d":0.54},{"m":0.99,"d":0.45},{"m":0.992,"d":0.36},{"m":0.972,"d":0.53}]
},
"spacing":6,
"resolve":{"scale":{"color":"independent"}},
"hconcat":[
{"columns":2,"bounds":"flush","spacing":{"column":85,"row":57},"resolve":{"scale":{"color":"independent"}},
"concat":[
{"width":275,"height":183,"layer":[
{"data":{"name":"real"},"mark":{"type":"line","strokeWidth":4,"opacity":0.8},"encoding":{
"x":{"field":"e","type":"quantitative","scale":{"domain":[-4.4,4.4],"nice":false,"zero":false},"axis":{"title":"eigenvalue","values":[-4,-2,0,2,4],"format":"d","labelFontSize":17.5,"titleFontSize":17.5,"labelPadding":11,"titlePadding":3}},
"y":{"field":"v","type":"quantitative","scale":{"domain":[-2.485,-0.665],"nice":false,"zero":false},"axis":{"title":"log₁₀(IPR)","values":[-2,-1.5,-1],"format":".1f","labelFontSize":17.5,"titleFontSize":17.5,"titleFontStyle":"italic","labelPadding":10,"titlePadding":6}},
"color":{"datum":"real","type":"nominal","scale":{"domain":["real","random"],"range":["#008000","#0000ff"]},"legend":{"title":null,"orient":"none","legendX":174,"legendY":10,"symbolType":"M-3,0H3","symbolSize":64,"symbolStrokeWidth":3.5,"symbolOffset":7,"labelOffset":13,"labelFontSize":13,"labelColor":"#000","rowPadding":4.7,"padding":4.5,"fillColor":"rgba(255,255,255,0.8)","strokeColor":"#cccccc","cornerRadius":3}}}},
{"data":{"name":"random"},"mark":{"type":"line","strokeWidth":4,"opacity":0.8},"encoding":{"x":{"field":"e","type":"quantitative"},"y":{"field":"v","type":"quantitative"},"color":{"datum":"random","type":"nominal"}}}
]},
{"width":275,"height":183,"layer":[
{"data":{"name":"real"},"mark":{"type":"line","strokeWidth":4,"opacity":0.8},"encoding":{
"x":{"field":"e","type":"quantitative","scale":{"domain":[-4.4,4.4],"nice":false,"zero":false},"axis":{"title":"eigenvalue","values":[-4,-2,0,2,4],"format":"d","labelFontSize":17.5,"titleFontSize":17.5,"labelPadding":11,"titlePadding":3}},
"y":{"field":"v","type":"quantitative","scale":{"domain":[-2.39,-0.68],"nice":false,"zero":false},"axis":{"title":"log₁₀(IPR)","values":[-2,-1.5,-1],"format":".1f","labelFontSize":17.5,"titleFontSize":17.5,"titleFontStyle":"italic","labelPadding":10,"titlePadding":6}},
"color":{"datum":"real","type":"nominal","scale":{"domain":["real","w/o geometry"],"range":["#008000","#bfbf00"]},"legend":{"title":null,"orient":"none","legendX":135,"legendY":9,"symbolType":"M-3,0H3","symbolSize":64,"symbolStrokeWidth":3.5,"symbolOffset":7,"labelOffset":13,"labelFontSize":13,"labelColor":"#000","rowPadding":4.7,"padding":4.5,"fillColor":"rgba(255,255,255,0.8)","strokeColor":"#cccccc","cornerRadius":3}}}},
{"data":{"name":"geo"},"mark":{"type":"line","strokeWidth":4,"opacity":0.8},"encoding":{"x":{"field":"e","type":"quantitative"},"y":{"field":"v","type":"quantitative"},"color":{"datum":"w/o geometry","type":"nominal"}}}
]},
{"width":275,"height":183,"layer":[
{"data":{"name":"real"},"mark":{"type":"line","strokeWidth":4,"opacity":0.8},"encoding":{
"x":{"field":"e","type":"quantitative","scale":{"domain":[-4.4,4.4],"nice":false,"zero":false},"axis":{"title":"eigenvalue","values":[-4,-2,0,2,4],"format":"d","labelFontSize":17.5,"titleFontSize":17.5,"labelPadding":11,"titlePadding":3}},
"y":{"field":"v","type":"quantitative","scale":{"domain":[-2.49,-0.67],"nice":false,"zero":false},"axis":{"title":"log₁₀(IPR)","values":[-2,-1.5,-1],"format":".1f","labelFontSize":17.5,"titleFontSize":17.5,"titleFontStyle":"italic","labelPadding":10,"titlePadding":6}},
"color":{"datum":"real","type":"nominal","scale":{"domain":["real","w/o pref. att."],"range":["#008000","#bf00bf"]},"legend":{"title":null,"orient":"none","legendX":143,"legendY":7,"symbolType":"M-3,0H3","symbolSize":64,"symbolStrokeWidth":3.5,"symbolOffset":7,"labelOffset":13,"labelFontSize":13,"labelColor":"#000","rowPadding":4.7,"padding":4.5,"fillColor":"rgba(255,255,255,0.8)","strokeColor":"#cccccc","cornerRadius":3}}}},
{"data":{"name":"pref"},"mark":{"type":"line","strokeWidth":4,"opacity":0.8},"encoding":{"x":{"field":"e","type":"quantitative"},"y":{"field":"v","type":"quantitative"},"color":{"datum":"w/o pref. att.","type":"nominal"}}}
]},
{"width":275,"height":183,"layer":[
{"data":{"name":"real"},"mark":{"type":"line","strokeWidth":4,"opacity":0.8},"encoding":{
"x":{"field":"e","type":"quantitative","scale":{"domain":[-4.4,4.4],"nice":false,"zero":false},"axis":{"title":"eigenvalue","values":[-4,-2,0,2,4],"format":"d","labelFontSize":17.5,"titleFontSize":17.5,"labelPadding":11,"titlePadding":3}},
"y":{"field":"v","type":"quantitative","scale":{"domain":[-2.44,-0.685],"nice":false,"zero":false},"axis":{"title":"log₁₀(IPR)","values":[-2,-1.5,-1],"format":".1f","labelFontSize":17.5,"titleFontSize":17.5,"titleFontStyle":"italic","labelPadding":10,"titlePadding":6}},
"color":{"datum":"real","type":"nominal","scale":{"domain":["real","NGPA"],"range":["#008000","#ff0000"]},"legend":{"title":null,"orient":"none","legendX":190,"legendY":9,"symbolType":"M-3,0H3","symbolSize":64,"symbolStrokeWidth":3.5,"symbolOffset":7,"labelOffset":13,"labelFontSize":13,"labelColor":"#000","rowPadding":4.7,"padding":4.5,"fillColor":"rgba(255,255,255,0.8)","strokeColor":"#cccccc","cornerRadius":3}}}},
{"data":{"name":"ngpa"},"mark":{"type":"line","strokeWidth":4,"opacity":0.8},"encoding":{"x":{"field":"e","type":"quantitative"},"y":{"field":"v","type":"quantitative"},"color":{"datum":"NGPA","type":"nominal"}}}
]}
]},
{"columns":2,"bounds":"flush","spacing":{"column":72,"row":57},"resolve":{"scale":{"color":"independent"}},
"concat":[
{"width":168,"height":183,"layer":[
{"data":{"name":"sreal"},"mark":{"type":"circle","size":25,"opacity":1},"encoding":{
"x":{"field":"m","type":"quantitative","scale":{"domain":[-0.041,1.054],"nice":false,"zero":false},"axis":{"title":"μ","values":[0,0.5,1],"format":".1f","labelFontSize":19,"titleFontSize":21,"titleFontStyle":"italic","labelPadding":11,"titlePadding":0}},
"y":{"field":"d","type":"quantitative","scale":{"domain":[0.2,1.05],"nice":false,"zero":false},"axis":{"title":"< Dq >","values":[0.2,0.4,0.6,0.8,1],"format":".1f","labelFontSize":19,"titleFontSize":21,"titleFontStyle":"italic","labelPadding":5,"titlePadding":7}},
"color":{"datum":"real","type":"nominal","scale":{"domain":["real","random"],"range":["#008000","#0000ff"]},"legend":{"title":null,"orient":"none","legendX":38,"legendY":137,"symbolType":"circle","symbolSize":25,"symbolStrokeWidth":0,"symbolOffset":10.5,"labelOffset":10,"labelFontSize":13,"labelColor":"#000","rowPadding":4.3,"padding":4.5,"fillColor":"rgba(255,255,255,0.8)","strokeColor":"#cccccc","cornerRadius":3}}}},
{"data":{"name":"srandom"},"mark":{"type":"circle","size":25,"opacity":1},"encoding":{"x":{"field":"m","type":"quantitative"},"y":{"field":"d","type":"quantitative"},"color":{"datum":"random","type":"nominal"}}}
]},
{"width":168,"height":183,"layer":[
{"data":{"name":"sreal"},"mark":{"type":"circle","size":25,"opacity":1},"encoding":{
"x":{"field":"m","type":"quantitative","scale":{"domain":[-0.041,1.054],"nice":false,"zero":false},"axis":{"title":"μ","values":[0,0.5,1],"format":".1f","labelFontSize":19,"titleFontSize":21,"titleFontStyle":"italic","labelPadding":11,"titlePadding":0}},
"y":{"field":"d","type":"quantitative","scale":{"domain":[0.2,1.05],"nice":false,"zero":false},"axis":{"title":"< Dq >","values":[0.2,0.4,0.6,0.8,1],"format":".1f","labelFontSize":19,"titleFontSize":21,"titleFontStyle":"italic","labelPadding":5,"titlePadding":7}},
"color":{"datum":"real","type":"nominal","scale":{"domain":["real","w/o geometry"],"range":["#008000","#bfbf00"]},"legend":{"title":null,"orient":"none","legendX":18,"legendY":138,"symbolType":"circle","symbolSize":25,"symbolStrokeWidth":0,"symbolOffset":10.5,"labelOffset":10,"labelFontSize":13,"labelColor":"#000","rowPadding":4.3,"padding":4.5,"fillColor":"rgba(255,255,255,0.8)","strokeColor":"#cccccc","cornerRadius":3}}}},
{"data":{"name":"sgeo"},"mark":{"type":"circle","size":25,"opacity":1},"encoding":{"x":{"field":"m","type":"quantitative"},"y":{"field":"d","type":"quantitative"},"color":{"datum":"w/o geometry","type":"nominal"}}}
]},
{"width":168,"height":183,"layer":[
{"data":{"name":"sreal"},"mark":{"type":"circle","size":25,"opacity":1},"encoding":{
"x":{"field":"m","type":"quantitative","scale":{"domain":[-0.041,1.054],"nice":false,"zero":false},"axis":{"title":"μ","values":[0,0.5,1],"format":".1f","labelFontSize":19,"titleFontSize":21,"titleFontStyle":"italic","labelPadding":11,"titlePadding":0}},
"y":{"field":"d","type":"quantitative","scale":{"domain":[0.2,1.05],"nice":false,"zero":false},"axis":{"title":"< Dq >","values":[0.2,0.4,0.6,0.8,1],"format":".1f","labelFontSize":19,"titleFontSize":21,"titleFontStyle":"italic","labelPadding":5,"titlePadding":7}},
"color":{"datum":"real","type":"nominal","scale":{"domain":["real","w/o pref. att."],"range":["#008000","#bf00bf"]},"legend":{"title":null,"orient":"none","legendX":24,"legendY":138,"symbolType":"circle","symbolSize":25,"symbolStrokeWidth":0,"symbolOffset":10.5,"labelOffset":10,"labelFontSize":13,"labelColor":"#000","rowPadding":4.3,"padding":4.5,"fillColor":"rgba(255,255,255,0.8)","strokeColor":"#cccccc","cornerRadius":3}}}},
{"data":{"name":"spref"},"mark":{"type":"circle","size":25,"opacity":1},"encoding":{"x":{"field":"m","type":"quantitative"},"y":{"field":"d","type":"quantitative"},"color":{"datum":"w/o pref. att.","type":"nominal"}}}
]},
{"width":168,"height":183,"layer":[
{"data":{"name":"sreal"},"mark":{"type":"circle","size":25,"opacity":1},"encoding":{
"x":{"field":"m","type":"quantitative","scale":{"domain":[-0.041,1.054],"nice":false,"zero":false},"axis":{"title":"μ","values":[0,0.5,1],"format":".1f","labelFontSize":19,"titleFontSize":21,"titleFontStyle":"italic","labelPadding":11,"titlePadding":0}},
"y":{"field":"d","type":"quantitative","scale":{"domain":[0.2,1.05],"nice":false,"zero":false},"axis":{"title":"< Dq >","values":[0.2,0.4,0.6,0.8,1],"format":".1f","labelFontSize":19,"titleFontSize":21,"titleFontStyle":"italic","labelPadding":5,"titlePadding":7}},
"color":{"datum":"real","type":"nominal","scale":{"domain":["real","NGPA"],"range":["#008000","#ff0000"]},"legend":{"title":null,"orient":"none","legendX":45,"legendY":138,"symbolType":"circle","symbolSize":25,"symbolStrokeWidth":0,"symbolOffset":10.5,"labelOffset":10,"labelFontSize":13,"labelColor":"#000","rowPadding":4.3,"padding":4.5,"fillColor":"rgba(255,255,255,0.8)","strokeColor":"#cccccc","cornerRadius":3}}}},
{"data":{"name":"sngpa"},"mark":{"type":"circle","size":25,"opacity":1},"encoding":{"x":{"field":"m","type":"quantitative"},"y":{"field":"d","type":"quantitative"},"color":{"datum":"NGPA","type":"nominal"}}}
]}
]}
]
}
